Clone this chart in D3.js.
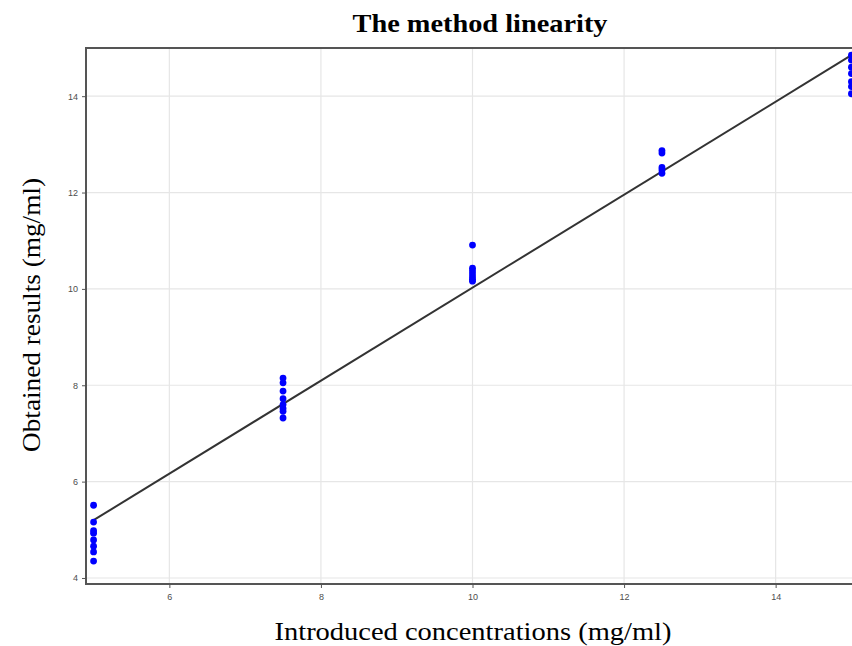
<!DOCTYPE html>
<html><head><meta charset="utf-8">
<script src="https://cdn.jsdelivr.net/npm/d3@7"></script>
<style>body{margin:0;background:#fff;} svg{display:block;}</style>
</head><body>
<script>
const concentrations = [5, 7.5, 10, 12.5, 15];
const results5 = [5.51, 5.16, 4.98, 4.93, 4.79, 4.66, 4.54, 4.35];
const results75 = [8.15, 8.05, 7.88, 7.72, 7.60, 7.52, 7.46, 7.32];
const results10 = [10.91, 10.43, 10.37, 10.31, 10.25, 10.20, 10.16];
const results125 = [12.87, 12.82, 12.52, 12.47, 12.40];
const results15 = [14.85, 14.75, 14.60, 14.47, 14.30, 14.20, 14.05];
const fitSlope = 0.965, fitIntercept = 0.375;
const xTicks = [6, 8, 10, 12, 14];
const yTicks = [4, 6, 8, 10, 12, 14];

const groups = [results5, results75, results10, results125, results15];
const points = [];
groups.forEach((g, i) => g.forEach(v => points.push({x: concentrations[i], y: v})));

const W = 852, H = 646;
const svg = d3.select("body").append("svg").attr("width", W).attr("height", H);
const L = 86, R = 859, T = 48, B = 584;
const x = d3.scaleLinear().domain([4.9, 15.1]).range([L, R]);
const y = d3.scaleLinear().domain([3.875, 15.0]).range([B, T]);

// grid
const grid = svg.append("g");
grid.selectAll(".vg").data(xTicks).join("line")
  .attr("x1", d => x(d)).attr("x2", d => x(d)).attr("y1", T).attr("y2", B)
  .attr("stroke", "#e6e6e6").attr("stroke-width", 1.2);
grid.selectAll(".hg").data(yTicks).join("line")
  .attr("y1", d => y(d)).attr("y2", d => y(d)).attr("x1", L).attr("x2", R)
  .attr("stroke", "#e6e6e6").attr("stroke-width", 1.2);

// clip for panel
svg.append("clipPath").attr("id", "clip").append("rect")
  .attr("x", L).attr("y", T - 6).attr("width", W - L).attr("height", B - T + 6);
const panel = svg.append("g").attr("clip-path", "url(#clip)");

// fit line
const xs = [concentrations[0], concentrations[concentrations.length - 1]];
panel.append("line")
  .attr("x1", x(xs[0])).attr("y1", y(fitIntercept + fitSlope * xs[0]))
  .attr("x2", x(xs[1])).attr("y2", y(fitIntercept + fitSlope * xs[1]))
  .attr("stroke", "#333").attr("stroke-width", 2);

panel.selectAll("circle").data(points).join("circle")
  .attr("cx", d => x(d.x)).attr("cy", d => y(d.y)).attr("r", 3.4)
  .attr("fill", "#0000ff");

// border
svg.append("path")
  .attr("d", `M${W+2},${T} L${L},${T} L${L},${B} L${W+2},${B}`)
  .attr("fill", "none").attr("stroke", "#555").attr("stroke-width", 2);

// axes
const xAxis = svg.append("g").attr("transform", `translate(0,${B})`)
  .call(d3.axisBottom(x).tickValues(xTicks).tickSize(4).tickPadding(6));
const yAxis = svg.append("g").attr("transform", `translate(${L},0)`)
  .call(d3.axisLeft(y).tickValues(yTicks).tickSize(4).tickPadding(4));
[xAxis, yAxis].forEach(a => {
  a.select(".domain").remove();
  a.selectAll("line").attr("stroke", "#555");
  a.selectAll("text").attr("fill", "#4d4d4d").style("font-family", "Liberation Sans, Arial, sans-serif").style("font-size", "9px");
});

const serif = "Liberation Serif, Times New Roman, serif";
svg.append("text").attr("x", 480).attr("y", 32).attr("text-anchor", "middle")
  .attr("textLength", 255).attr("lengthAdjust", "spacingAndGlyphs")
  .style("font-family", serif).style("font-weight", "bold").style("font-size", "26px")
  .text("The method linearity");
svg.append("text").attr("x", 473).attr("y", 640).attr("text-anchor", "middle")
  .attr("textLength", 397).attr("lengthAdjust", "spacingAndGlyphs")
  .style("font-family", serif).style("font-size", "26px")
  .text("Introduced concentrations (mg/ml)");
svg.append("text").attr("transform", "translate(40,315) rotate(-90)").attr("text-anchor", "middle")
  .attr("textLength", 274).attr("lengthAdjust", "spacingAndGlyphs")
  .style("font-family", serif).style("font-size", "26px")
  .text("Obtained results (mg/ml)");
</script>
</body></html>
